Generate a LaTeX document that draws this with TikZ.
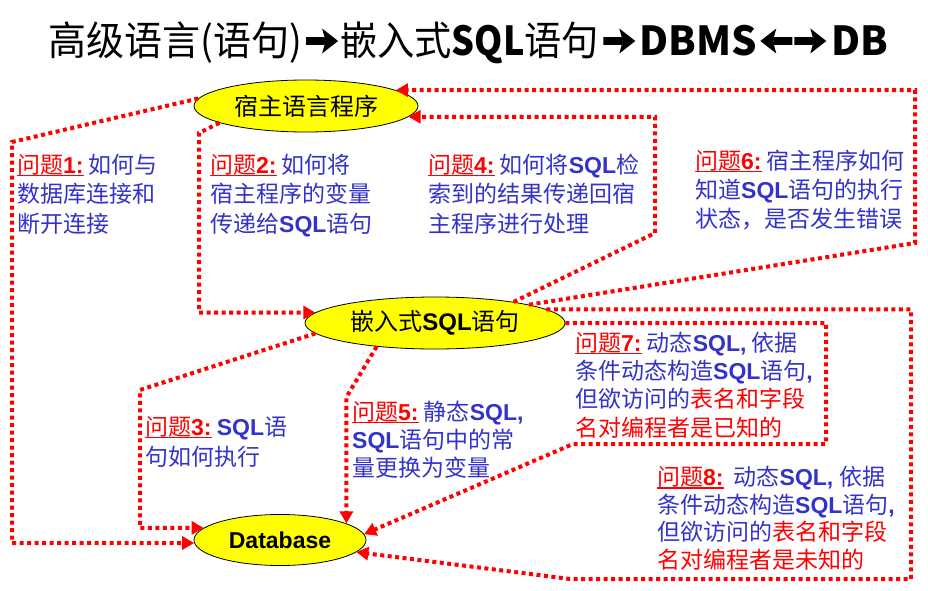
\documentclass[tikz,border=0pt]{standalone}
\usepackage{fontspec}
\setmainfont{Noto Sans CJK SC}
\newfontfamily\lat{Liberation Sans}
\usetikzlibrary{shapes.geometric,arrows.meta}
\definecolor{qblue}{RGB}{51,51,204}
\definecolor{qred}{RGB}{255,0,0}
\definecolor{qyel}{RGB}{255,255,0}
\newcommand\B[1]{{\lat\bfseries #1}}
\newcommand\Q[1]{\textcolor{qred}{\setbox0\hbox{问题\B{#1:}}\rlap{\rule[-3pt]{\wd0}{1.3pt}}\box0}}
\newcommand\R[1]{\textcolor{qred}{#1}}
\newcommand\CJ[2][0.95]{\scalebox{#1}[1]{#2}}
\tikzset{
  ell/.style={ellipse, draw=black, line width=0.8pt, fill=qyel, inner sep=0pt},
  conn/.style={qred, line width=4pt, dash pattern=on 4pt off 3.5pt, line join=miter,
    -{Triangle[length=12pt,width=13pt]}},
  lab/.style={font=\fontsize{23}{#1}\selectfont, text=qblue, align=left, inner sep=0pt, anchor=base west},
  ttl/.style={font=\fontsize{40}{48}\selectfont, inner sep=0pt, anchor=west, text height=35pt, text depth=5pt},
  rarrow/.pic={\fill[black] (0,-3.8) rectangle (19,3.8) (16,-12.5) -- (32,0) -- (16,12.5) -- (19.5,0) -- cycle;},
  larrow/.pic={\fill[black] (32,-3.8) rectangle (13,3.8) (16,-12.5) -- (0,0) -- (16,12.5) -- (12.5,0) -- cycle;}
}
\begin{document}
\begin{tikzpicture}[x=1pt,y=-1pt]
\useasboundingbox[fill=white] (0,0) rectangle (928,591);

% title
\node[ttl] (t1) at (48,41) {\CJ{高级语言(语句)}};
\pic at ([xshift=4pt]t1.east) {rarrow};
\node[ttl] (t2) at ([xshift=38pt]t1.east) {\CJ[0.93]{嵌入式}\CJ[0.9]{\bfseries SQL}\CJ[0.93]{语句}};
\pic at ([xshift=4pt]t2.east) {rarrow};
\node[ttl] (t3) at ([xshift=40pt]t2.east) {\bfseries DBMS};
\pic at ([xshift=3pt]t3.east) {larrow};
\pic at ([xshift=37pt]t3.east) {rarrow};
\node[ttl] (t4) at ([xshift=74pt]t3.east) {\bfseries DB};

% ellipses
\node[ell, minimum width=224pt, minimum height=52pt, font=\fontsize{24}{24}\selectfont] (host) at (306,106) {宿主语言程序};
\node[ell, minimum width=260pt, minimum height=52pt, font=\fontsize{24}{24}\selectfont] (emb) at (435,323) {嵌入式\B{SQL}语句};
\node[ell, minimum width=172pt, minimum height=51pt, font=\fontsize{23}{23}\selectfont] (db) at (280,540) {\B{Database}};

% connectors
\draw[conn] (host.176) -- (12,142) -- (12,0 |- db.182) -- (db.182);
\draw[conn] (host.191) -- (199,133) -- (199,0 |- emb.175.8) -- (emb.175.8);
\draw[conn] (emb.185.9) -- (140,390) -- (140,0 |- db.171.5) -- (db.171.5);
\draw[conn] (emb.15) -- (655,233) -- (655,0 |- host.-6) -- (host.-6);
\draw[conn] (emb.202.8) -- (db.14.7 |- 0,397) -- (db.14.7);
\draw[conn] (emb.11.9) -- (915,243) -- (915,0 |- host.10.5) -- (host.10.5);
\draw[conn] (emb.east) -- (826,0 |- emb.east) -- (826,444) -- (573,444) -- (db.4.9);
\draw[conn] (emb.7.3) -- (911,0 |- emb.7.3) -- (911,579) -- (570,579) -- (db.-9.3);

% labels (anchor = baseline of last line)
\node[lab=29.5] (q1) at (17,232) {\Q{1} 如何与\\数据库连接和\\断开连接};
\node[lab=29.5] (q2) at (210,232) {\Q{2} 如何将\\宿主程序的变量\\传递给\B{SQL}语句};
\node[lab=29.5] (q4) at (428,232) {\Q{4} 如何将\B{SQL}检\\索到的结果传递回宿\\主程序进行处理};
\node[lab=29] (q6) at (695,227) {\Q{6} 宿主程序如何\\知道\B{SQL}语句的执行\\状态，是否发生错误};
\node[lab=30] (q3) at (145,465) {\Q{3} \B{SQL}语\\句如何执行};
\node[lab=28] (q5) at (352,476) {\Q{5} 静态\B{SQL,}\\\B{SQL}语句中的常\\量更换为变量};
\node[lab=28.3] (q7) at (575,436) {\Q{7} 动态\B{SQL,} 依据\\条件动态构造\B{SQL}语句\B{,}\\但欲访问的\R{表名和字段}\\\R{名对编程者是已知的}};
\node[lab=27.5] (q8) at (657,568) {\Q{8}\hspace{10pt}动态\B{SQL,}\hspace{6pt}依据\\条件动态构造\B{SQL}语句\B{,}\\但欲访问的\R{表名和字段}\\\R{名对编程者是未知的}};
\end{tikzpicture}
\end{document}
